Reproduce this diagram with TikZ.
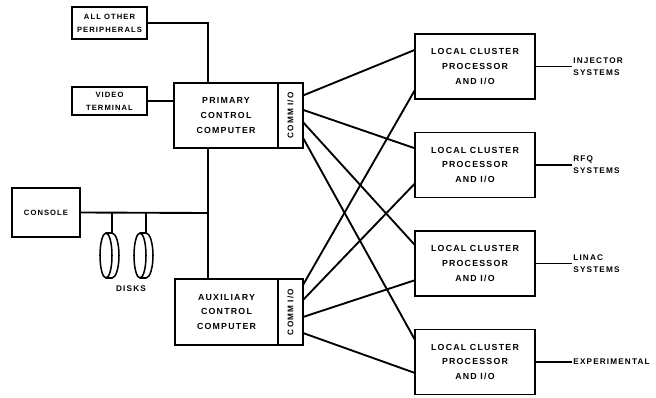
\documentclass[tikz,border=0pt]{standalone}
\usepackage{fontspec}
\newfontfamily\letterfont{Liberation Sans}[LetterSpace=14.0]
\usetikzlibrary{calc}
\tikzset{box/.style={draw,line width=1.4pt,inner sep=0pt,outer sep=0pt,align=center,font=\letterfont\bfseries\fontsize{7.5}{12.5}\selectfont}}
\tikzset{smallbox/.style={box,font=\letterfont\bfseries\fontsize{6.5}{11}\selectfont}}
\tikzset{strip/.style={box,rotate=90,minimum width=1.95cm,minimum height=0.75cm,font=\letterfont\bfseries\fontsize{7}{8}\selectfont}}
\tikzset{sysname/.style={anchor=west,align=left,inner sep=1pt,font=\letterfont\bfseries\fontsize{7}{10}\selectfont}}
\tikzset{wire/.style={line width=1.6pt}}
\tikzset{disk/.style={line width=1.3pt}}

\begin{document}
\begin{tikzpicture}[x=0.03cm,y=-0.03cm]
	\useasboundingbox (0,0) rectangle (656,397);
	% left side units
	\node[smallbox,minimum width=2.25cm,minimum height=0.96cm] (per) at (109.5,23) {ALL OTHER\\PERIPHERALS};
	\node[smallbox,minimum width=2.25cm,minimum height=0.84cm] (vid) at (109.5,101) {VIDEO\\TERMINAL};
	\node[smallbox,minimum width=2.04cm,minimum height=1.47cm] (con) at (46,212.5) {CONSOLE};

	% control computers
	\node[box,minimum width=3.12cm,minimum height=1.95cm] (pcc) at (226,115.5) {PRIMARY\\CONTROL\\COMPUTER};
	\node[strip,anchor=north] (pio) at (pcc.east) {COMM I/O};
	\node[box,minimum width=3.09cm,minimum height=1.98cm] (acc) at (226.5,312) {AUXILIARY\\CONTROL\\COMPUTER};
	\node[strip,anchor=north,minimum width=1.98cm] (aio) at (acc.east) {COMM I/O};

	% bus
	\coordinate (bus) at (208,213);
	\draw[wire] (per.east) -| (pcc.north -| bus);
	\draw[wire] (vid.east) -- (vid.east -| pcc.west);
	\draw[wire] (pcc.south -| bus) -- (acc.north -| bus);
	\draw[wire] (con.east) -- (bus);

	% disks
	\coordinate (d1) at (112,233);
	\coordinate (d2) at (146,233);
	\draw[wire] (d1 |- bus) -- (d1);
	\draw[wire] (d2 |- bus) -- (d2);
	\foreach \dx in {106,140}{
		\draw[disk] (\dx,255.5) ellipse (0.18cm and 0.675cm);
		\draw[disk] (\dx,233) -- (\dx+6,233) arc[start angle=90,end angle=-90,x radius=0.21cm,y radius=0.675cm] -- (\dx,278);
	}
	\node[sysname,anchor=center] (dsk) at (131,289) {DISKS};

	% local cluster processors
	\foreach \n/\y/\sys in {1/66.5/{INJECTOR\\SYSTEMS},2/165/{RFQ\\SYSTEMS},3/263.5/{LINAC\\SYSTEMS},4/362/EXPERIMENTAL}{
		\node[box,minimum width=3.6cm,minimum height=1.95cm] (l\n) at (475,\y) {LOCAL CLUSTER\\PROCESSOR\\AND I/O};
		\node[sysname] (s\n) at (572,\y) {\sys};
		\draw[wire] (l\n.east) -- (s\n.west);
	}

	% primary links
	\draw[wire] ([yshift=0.6cm]pio.south) -- ([yshift=0.5cm]l1.west);
	\draw[wire] ([yshift=0.17cm]pio.south) -- ([yshift=0.5cm]l2.west);
	\draw[wire] ([yshift=-0.2cm]pio.south) -- ([yshift=0.55cm]l3.west);
	\draw[wire] ([yshift=-0.67cm]pio.south) -- ([yshift=0.66cm]l4.west);
	% auxiliary links
	\draw[wire] ([yshift=0.81cm]aio.south) -- ([yshift=-0.7cm]l1.west);
	\draw[wire] ([yshift=0.36cm]aio.south) -- ([yshift=-0.55cm]l2.west);
	\draw[wire] ([yshift=-0.15cm]aio.south) -- ([yshift=-0.5cm]l3.west);
	\draw[wire] ([yshift=-0.63cm]aio.south) -- ([yshift=-0.33cm]l4.west);
\end{tikzpicture}
\end{document}
